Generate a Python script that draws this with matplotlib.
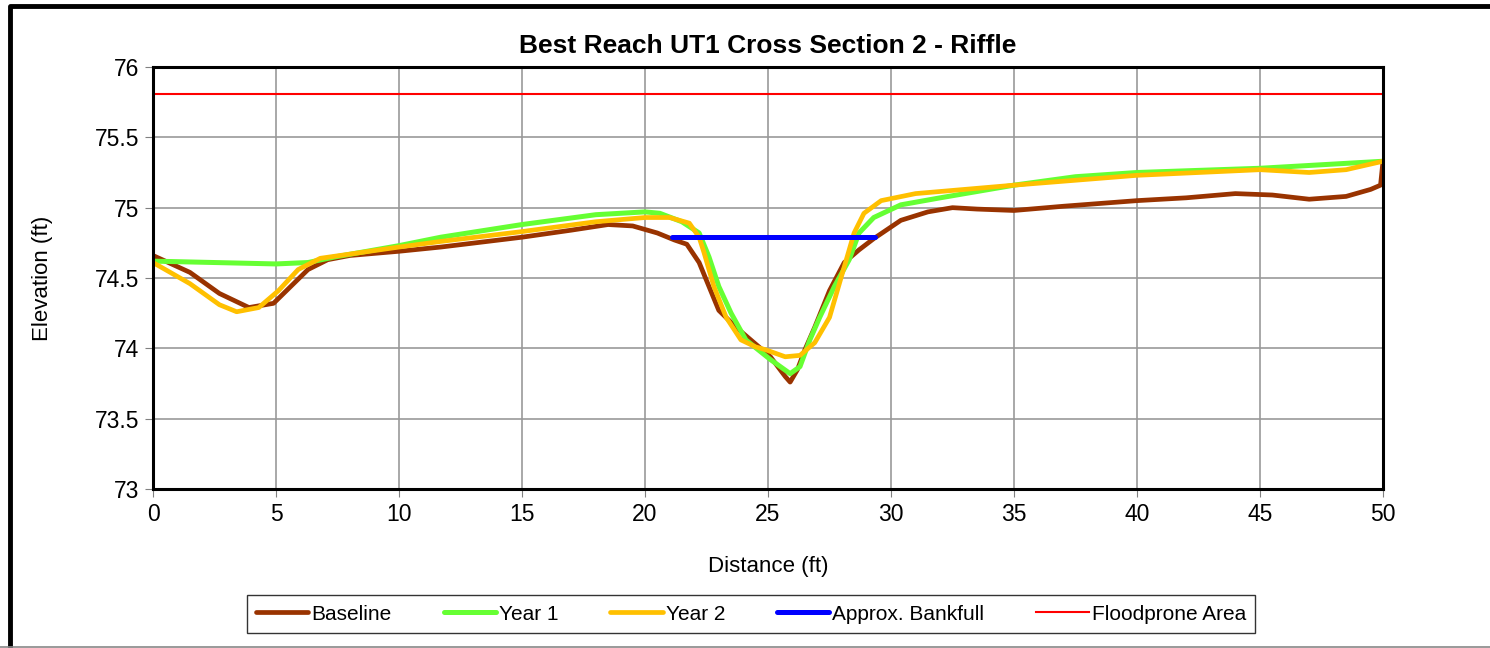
import matplotlib.pyplot as plt
from matplotlib.lines import Line2D

plt.rcParams["font.family"] = ["Liberation Sans", "DejaVu Sans"]

# -----------------------------
# Data
# -----------------------------

baseline_x = [0, 1.5, 2.7, 3.9, 4.9, 5.6, 6.3, 7.1, 8, 10, 11.7, 15, 17, 18.5,
              19.5, 20.5, 21.2, 21.7, 22.2, 22.6, 23.0, 23.7, 24.3, 25.1, 25.7,
              25.9, 26.2, 26.5, 26.9, 27.5, 28.1, 28.7, 29.3, 30.4, 31.5, 32.5,
              33.5, 35, 37, 40, 42, 44, 45.5, 47, 48.5, 49.5, 49.9, 50.0]
baseline_y = [74.66, 74.54, 74.39, 74.29, 74.32, 74.44, 74.56, 74.63, 74.66,
              74.69, 74.72, 74.79, 74.84, 74.88, 74.87, 74.82, 74.77, 74.74,
              74.61, 74.44, 74.27, 74.15, 74.06, 73.94, 73.80, 73.76, 73.85,
              73.99, 74.15, 74.41, 74.61, 74.70, 74.78, 74.91, 74.97, 75.00,
              74.99, 74.98, 75.01, 75.05, 75.07, 75.10, 75.09, 75.06, 75.08,
              75.13, 75.16, 75.33]

year1_x = [0, 2.5, 5, 6.3, 7.4, 10, 11.7, 15, 18, 20, 20.6, 21.5, 22.2, 22.6,
           23.0, 23.5, 24.1, 25.1, 25.9, 26.3, 26.7, 27.1, 27.7, 28.3, 28.7,
           29.3, 30.4, 32, 35, 37.5, 40, 45, 50]
year1_y = [74.62, 74.61, 74.60, 74.61, 74.65, 74.73, 74.79, 74.88, 74.95,
           74.97, 74.96, 74.90, 74.82, 74.65, 74.44, 74.25, 74.06, 73.92,
           73.82, 73.87, 74.06, 74.22, 74.44, 74.63, 74.82, 74.93, 75.02,
           75.07, 75.16, 75.22, 75.25, 75.28, 75.33]

year2_x = [0, 1.5, 2.7, 3.4, 4.3, 5.1, 5.9, 6.8, 8, 10, 11.7, 15, 18, 20, 21,
           21.8, 22.2, 22.4, 22.8, 23.3, 23.9, 24.5, 24.9, 25.7, 26.3, 26.9,
           27.5, 28.1, 28.5, 28.9, 29.6, 31, 35, 40, 45, 47, 48.5, 50]
year2_y = [74.61, 74.46, 74.31, 74.26, 74.29, 74.41, 74.56, 74.64, 74.67,
           74.72, 74.76, 74.83, 74.90, 74.93, 74.93, 74.89, 74.79, 74.68,
           74.44, 74.22, 74.06, 74.01, 73.99, 73.94, 73.95, 74.04, 74.22,
           74.58, 74.82, 74.96, 75.05, 75.10, 75.16, 75.23, 75.27, 75.25,
           75.27, 75.33]

bankfull_x = [21.1, 29.35]
bankfull_y = [74.79, 74.79]

floodprone_x = [0, 50]
floodprone_y = [75.81, 75.81]

# -----------------------------
# Plot
# -----------------------------

fig = plt.figure(figsize=(14.9, 6.48), dpi=100)
ax = fig.add_axes([153 / 1490, 1 - 489 / 648, 1230 / 1490, 422 / 648])

ax.plot(baseline_x, baseline_y, color="#993300", lw=3.4,
        solid_joinstyle="round", solid_capstyle="round", label="Baseline")
ax.plot(year1_x, year1_y, color="#66FF33", lw=3.6,
        solid_joinstyle="round", solid_capstyle="round", label="Year 1")
ax.plot(year2_x, year2_y, color="#FFC000", lw=3.4,
        solid_joinstyle="round", solid_capstyle="round", label="Year 2")
ax.plot(bankfull_x, bankfull_y, color="#0000FF", lw=3.6,
        solid_capstyle="round", label="Approx. Bankfull")
ax.plot(floodprone_x, floodprone_y, color="#FF0000", lw=1.5,
        label="Floodprone Area")

ax.set_xlim(0, 50)
ax.set_ylim(73, 76)
ax.set_xticks(range(0, 51, 5))
ax.set_yticks([73, 73.5, 74, 74.5, 75, 75.5, 76])
ax.set_yticklabels(["73", "73.5", "74", "74.5", "75", "75.5", "76"])

ax.grid(True, color="#999999", lw=1.2)
ax.set_axisbelow(True)
for s in ax.spines.values():
    s.set_linewidth(2.2)
    s.set_color("black")

ax.tick_params(direction="out", length=6, width=0.8, color="#808080",
               labelsize=16.5, pad=4)

ax.set_title("Best Reach UT1 Cross Section 2 - Riffle", fontsize=19,
             fontweight="bold", pad=10)
ax.set_xlabel("Distance (ft)", fontsize=16, labelpad=22)
ax.set_ylabel("Elevation (ft)", fontsize=16, labelpad=30)

leg = fig.legend(loc="center", bbox_to_anchor=(751 / 1490, 1 - 614 / 648),
                 ncol=5, fontsize=15, frameon=True, fancybox=False,
                 handlelength=2.5, handletextpad=0.15, columnspacing=2.5,
                 borderpad=0.45)
leg.get_frame().set_edgecolor("black")
leg.get_frame().set_linewidth(1.0)

# chart border: thick left/top, thin grey bottom
fig.lines.append(Line2D([10 / 1490, 10 / 1490, 1], [0, 1 - 6 / 648, 1 - 6 / 648],
                        transform=fig.transFigure, color="black", lw=3.5))
fig.lines.append(Line2D([0, 1], [1.5 / 648, 1.5 / 648],
                        transform=fig.transFigure, color="#888888", lw=1.2))

fig.savefig("out.png", dpi=100)
